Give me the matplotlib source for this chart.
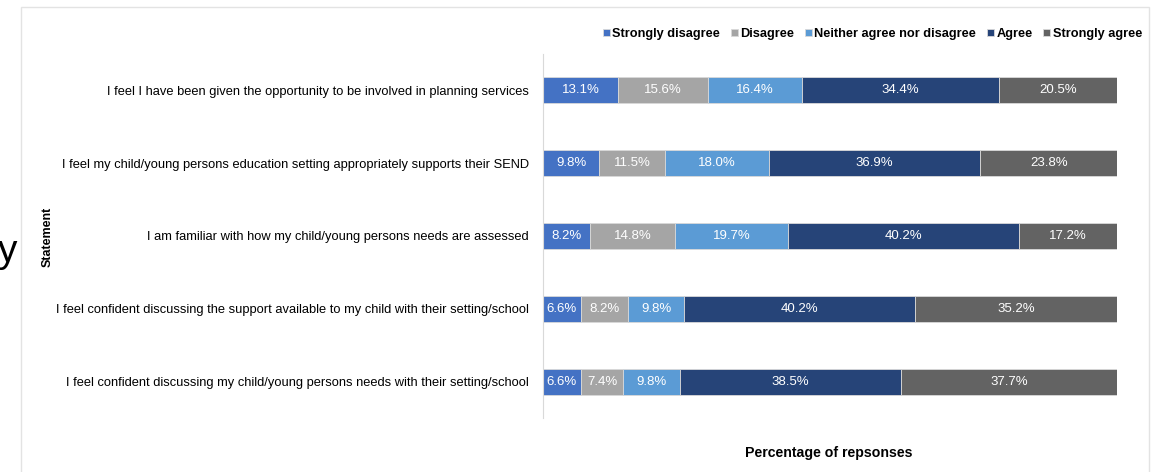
import numpy as np
import matplotlib
matplotlib.use('Agg')
from matplotlib import pyplot as plt
from matplotlib.patches import Rectangle

plt.rcParams['font.family'] = ['Liberation Sans', 'DejaVu Sans']

#data
statements = [
    'I feel I have been given the opportunity to be involved in planning services',
    'I feel my child/young persons education setting appropriately supports their SEND',
    'I am familiar with how my child/young persons needs are assessed',
    'I feel confident discussing the support available to my child with their setting/school',
    'I feel confident discussing my child/young persons needs with their setting/school',
]
categories = ['Strongly disagree', 'Disagree', 'Neither agree nor disagree', 'Agree', 'Strongly agree']
strongly_disagree = [13.1, 9.8, 8.2, 6.6, 6.6]
disagree = [15.6, 11.5, 14.8, 8.2, 7.4]
neither = [16.4, 18.0, 19.7, 9.8, 9.8]
agree = [34.4, 36.9, 40.2, 40.2, 38.5]
strongly_agree = [20.5, 23.8, 17.2, 35.2, 37.7]
colors = ['#4472C4', '#A5A5A5', '#5B9BD5', '#264478', '#636363']

series = [strongly_disagree, disagree, neither, agree, strongly_agree]

fig = plt.figure(figsize=(11.61, 4.72), dpi=100)
ax = fig.add_axes([543/1161, 1-418/472, (1117-543)/1161, 364/472])

#chart border like the source screenshot
fig.patches.append(Rectangle((21/1161, -0.05), (1149-21)/1161, 1.05-7/472,
                             transform=fig.transFigure, fill=False,
                             edgecolor='#E3E3E3', linewidth=1.0))

ypos = np.arange(len(statements))[::-1]
left = np.zeros(len(statements))
for name, vals, col in zip(categories, series, colors):
    vals = np.array(vals)
    bars = ax.barh(ypos, vals, left=left, height=0.356, color=col,
                   edgecolor='#D9D9D9', linewidth=0.6, label=name)
    for b, v in zip(bars, vals):
        ax.text(b.get_x() + b.get_width()/2, b.get_y() + b.get_height()/2,
                f'{v:.1f}%', ha='center', va='center', color='white', fontsize=9.5)
    left = left + vals

ax.set_xlim(0, 100)
ax.set_ylim(-0.5, 4.5)
ax.set_yticks(ypos)
ax.set_yticklabels(statements, fontsize=9.3)
ax.tick_params(axis='y', length=0, pad=10)
ax.set_xticks([])
for s in ['top', 'right', 'bottom']:
    ax.spines[s].set_visible(False)
ax.spines['left'].set_color('#D9D9D9')

fig.text(829/1161, 1-453/472, 'Percentage of repsonses', ha='center', va='center',
         fontsize=10.2, fontweight='bold')
fig.text(48/1161, 1-237/472, 'Statement', ha='center', va='center', rotation=90,
         fontsize=9, fontweight='bold')
fig.text(-2/1161, 1-252/472, 'y', ha='left', va='center', fontsize=28)

fig.legend(loc='center right', bbox_to_anchor=(1147/1161, 1-34/472), ncol=5,
           frameon=False, handlelength=0.55, handleheight=0.55,
           handletextpad=0.2, columnspacing=0.82, borderaxespad=0,
           prop={'weight': 'bold', 'size': 9.2})

fig.savefig('out.png', dpi=100)
